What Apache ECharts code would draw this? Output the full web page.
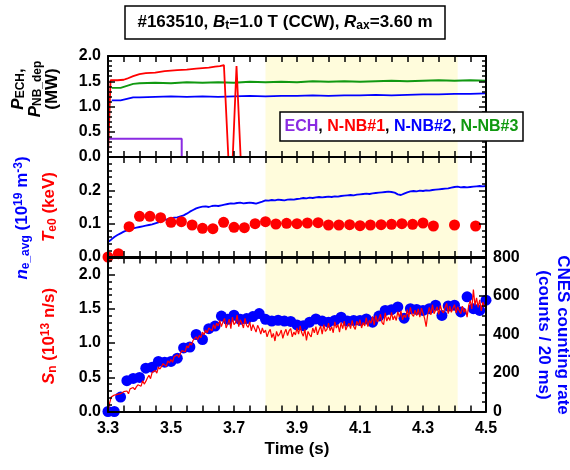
<!DOCTYPE html>
<html><head><meta charset="utf-8">
<script src="https://cdn.jsdelivr.net/npm/echarts@6/dist/echarts.min.js"></script>
<style>html,body{margin:0;padding:0;background:#fff}#c{width:570px;height:470px}</style>
</head><body><div id="c"></div>
<script>
const FONT = "'Liberation Sans', Arial, sans-serif";
const C_RED = '#ff0000', C_BLUE = '#0000ff', C_GREEN = '#119911', C_PURPLE = '#8a2be2';

// ---- top panel: heating powers (MW)
const echTime = [3.300, 3.300, 3.534, 3.534, 4.500];
const echPower = [0, 0.36, 0.36, 0, 0];
const nb1Time = [3.300, 3.308, 3.330, 3.350, 3.360, 3.380, 3.400, 3.420, 3.450, 3.480, 3.500, 3.520, 3.550, 3.580, 3.600, 3.620, 3.640, 3.655, 3.668, 3.682, 3.696, 3.708, 3.721, 4.500];
const nb1Power = [0, 1.52, 1.52, 1.53, 1.55, 1.60, 1.64, 1.66, 1.67, 1.70, 1.71, 1.72, 1.73, 1.75, 1.76, 1.77, 1.79, 1.80, 1.82, 0, 0, 1.80, 0, 0];
const nbTime = [3.312, 3.340, 3.360, 3.380, 3.400, 3.450, 3.500, 3.550, 3.600, 3.650, 3.700, 3.750, 3.800, 3.850, 3.900, 3.950, 4.000, 4.050, 4.100, 4.150, 4.200, 4.250, 4.300, 4.350, 4.400, 4.450, 4.500];
const nb2Power = [1.12, 1.12, 1.15, 1.18, 1.18, 1.19, 1.20, 1.19, 1.20, 1.19, 1.20, 1.21, 1.20, 1.21, 1.21, 1.22, 1.21, 1.22, 1.22, 1.23, 1.22, 1.23, 1.24, 1.24, 1.25, 1.25, 1.26];
const nb3Power = [1.37, 1.37, 1.41, 1.45, 1.46, 1.47, 1.46, 1.48, 1.47, 1.48, 1.47, 1.49, 1.48, 1.49, 1.48, 1.50, 1.49, 1.50, 1.49, 1.50, 1.51, 1.50, 1.51, 1.52, 1.51, 1.52, 1.51];

// ---- middle panel: line-averaged density (1e19 m^-3), sampled every 10 ms from 3.30 s
const neStart = 3.30, neStep = 0.01;
const neValues = [0.045,0.052,0.060,0.066,0.071,0.076,0.080,0.083,0.086,0.088,
 0.090,0.092,0.094,0.096,0.098,0.101,0.104,0.107,0.111,0.114,
 0.116,0.118,0.119,0.122,0.125,0.130,0.136,0.141,0.146,0.149,
 0.151,0.152,0.150,0.153,0.154,0.153,0.155,0.157,0.159,0.161,
 0.160,0.162,0.163,0.161,0.162,0.163,0.162,0.160,0.163,0.166,
 0.170,0.169,0.171,0.170,0.172,0.171,0.170,0.172,0.173,0.172,
 0.174,0.175,0.177,0.176,0.178,0.177,0.179,0.180,0.179,0.180,
 0.181,0.180,0.182,0.181,0.183,0.184,0.185,0.186,0.185,0.187,
 0.188,0.189,0.190,0.189,0.191,0.192,0.193,0.194,0.195,0.196,
 0.195,0.193,0.188,0.186,0.190,0.194,0.197,0.198,0.197,0.199,
 0.198,0.200,0.199,0.201,0.202,0.203,0.204,0.205,0.206,0.208,
 0.210,0.211,0.209,0.210,0.209,0.210,0.211,0.212,0.213,0.212,0.213];
// central electron temperature (keV)
const teTime = [3.300,3.333,3.367,3.400,3.433,3.467,3.500,3.533,3.567,3.600,3.633,3.667,3.700,3.733,3.767,3.800,3.833,3.867,3.900,3.933,3.967,4.000,4.033,4.067,4.100,4.133,4.167,4.200,4.233,4.267,4.300,4.333,4.400,4.467];
const teValues = [0.000,0.010,0.091,0.122,0.122,0.118,0.104,0.106,0.096,0.086,0.085,0.104,0.089,0.088,0.100,0.106,0.099,0.101,0.100,0.102,0.103,0.096,0.096,0.097,0.094,0.096,0.097,0.098,0.100,0.098,0.102,0.093,0.096,0.093];

// ---- bottom panel: neutron rate (1e13 n/s), every 5 ms from 3.30 s
const snStart = 3.30, snStep = 0.005;
const snValues = [0.00,0.12,0.21,0.19,0.24,0.22,0.25,0.23,0.26,0.24,
 0.29,0.27,0.30,0.26,0.33,0.31,0.35,0.32,0.36,0.39,
 0.41,0.37,0.45,0.40,0.44,0.49,0.53,0.48,0.57,0.55,
 0.60,0.56,0.65,0.62,0.66,0.70,0.71,0.66,0.74,0.71,
 0.76,0.72,0.80,0.78,0.83,0.79,0.85,0.89,0.91,0.87,
 0.96,0.93,1.00,0.97,1.04,1.02,1.09,1.05,1.11,1.08,
 1.16,1.12,1.19,1.15,1.22,1.24,1.18,1.27,1.21,1.29,
 1.25,1.33,1.24,1.31,1.36,1.22,1.28,1.35,1.21,1.38,
 1.27,1.30,1.41,1.24,1.34,1.29,1.22,1.36,1.26,1.23,
 1.31,1.18,1.27,1.25,1.16,1.26,1.21,1.13,1.22,1.15,
 1.19,1.09,1.16,1.20,1.08,1.14,1.03,1.17,1.10,1.13,
 1.19,1.07,1.15,1.20,1.11,1.18,1.21,1.09,1.16,1.12,
 1.22,1.13,1.25,1.15,1.10,1.20,1.04,1.17,1.12,1.09,
 1.22,1.15,1.24,1.12,1.19,1.25,1.13,1.27,1.17,1.20,
 1.29,1.18,1.24,1.15,1.31,1.22,1.27,1.16,1.30,1.21,
 1.32,1.19,1.25,1.29,1.21,1.33,1.24,1.20,1.32,1.26,
 1.34,1.22,1.30,1.25,1.37,1.24,1.33,1.29,1.39,1.26,
 1.40,1.31,1.35,1.42,1.30,1.27,1.44,1.32,1.38,1.33,
 1.45,1.34,1.40,1.33,1.46,1.38,1.47,1.34,1.41,1.37,
 1.49,1.38,1.52,1.42,1.39,1.48,1.40,1.50,1.38,1.51,
 1.44,1.36,1.24,1.42,1.52,1.41,1.56,1.43,1.48,1.53,
 1.42,1.55,1.47,1.44,1.52,1.58,1.43,1.54,1.45,1.51,
 1.56,1.44,1.53,1.47,1.43,1.54,1.45,1.50,1.38,1.55,
 1.62,1.50,1.78,1.55,1.66,1.52,1.63,1.47,1.60,1.53,1.58];
// CNES counting rate (counts / 20 ms), every 20 ms from 3.30 s
const cnesStart = 3.30, cnesStep = 0.02;
const cnesValues = [0,0,75,160,172,177,225,230,260,256,
 260,277,330,335,400,374,430,444,496,479,
 500,479,483,493,509,479,470,474,470,468,
 450,446,464,481,470,464,473,490,470,473,
 473,481,464,496,525,529,543,485,534,530,
 525,534,552,499,548,552,517,596,534,525,578];

const shadeFrom = 3.80, shadeTo = 4.41;
const xTickLabels = ['3.3','3.5','3.7','3.9','4.1','4.3','4.5'];

function zip(t, v) { return v.map((y, i) => [t[i], y]); }
function regular(start, step, v) { return v.map((y, i) => [+(start + i * step).toFixed(4), y]); }

const axisLineStyle = { color: '#000', width: 2 };
const tickStyle = { color: '#000', width: 1.5 };
const labelBase = { color: '#000', fontSize: 16, fontWeight: 'bold', fontFamily: FONT };

function xAx(grid, pos, showLabel) {
  return {
    type: 'value', gridIndex: grid, position: pos, min: 3.3, max: 4.5, interval: 0.05, z: 10,
    axisLine: { show: true, onZero: false, lineStyle: axisLineStyle },
    axisTick: { show: true, inside: true, length: 6, lineStyle: tickStyle },
    splitLine: { show: false },
    axisLabel: Object.assign({}, labelBase, {
      show: showLabel, margin: 9,
      formatter: v => { const i = Math.round((v - 3.3) / 0.05); return i % 4 === 0 ? xTickLabels[i / 4] : ''; }
    })
  };
}
function yAx(grid, pos, min, max, interval, split, showLabel, fmt) {
  return {
    type: 'value', gridIndex: grid, position: pos, min, max, interval, z: 10,
    axisLine: { show: true, onZero: false, lineStyle: axisLineStyle },
    axisTick: { show: true, inside: true, length: 7, lineStyle: tickStyle },
    minorTick: { show: true, splitNumber: split, length: 4, lineStyle: tickStyle },
    splitLine: { show: false }, minorSplitLine: { show: false },
    axisLabel: Object.assign({}, labelBase, { show: showLabel, margin: 7, formatter: fmt, showMaxLabel: true })
  };
}
const f1 = v => v.toFixed(1);
const f1noMax = max => v => (Math.abs(v - max) < 1e-9 ? '' : v.toFixed(1));

const shade = { silent: true, itemStyle: { color: '#fffcdc' }, data: [[{ xAxis: shadeFrom }, { xAxis: shadeTo }]] };

function line(name, x, y, data, color, width, extra) {
  return Object.assign({ name, type: 'line', xAxisIndex: x, yAxisIndex: y, data, symbol: 'none',
    lineStyle: { color, width }, itemStyle: { color }, clip: true, z: 3 }, extra || {});
}
function dots(name, x, y, data, color, size, extra) {
  return Object.assign({ name, type: 'scatter', xAxisIndex: x, yAxisIndex: y, data, symbol: 'circle', symbolSize: size,
    itemStyle: { color, opacity: 1 }, clip: false, z: 4 }, extra || {});
}

const gridBase = { left: 108, width: 378, containLabel: false, outerBoundsMode: 'none', show: false };

function tok(color, size, extra) {
  return Object.assign({ fontSize: size, fontWeight: 'bold', fontFamily: FONT, color, fill: color }, extra || {});
}
const rich = (color, lh) => ({
  n: tok(color, 17, { lineHeight: lh || 19 }),
  i: tok(color, 17, { lineHeight: lh || 19, fontStyle: 'italic' }),
  sub: tok(color, 12, { lineHeight: 12, verticalAlign: 'bottom' }),
  sup: tok(color, 12, { lineHeight: 11, verticalAlign: 'top' })
});
function rtext(x, y, rot, text, color, lh) {
  return { type: 'text', x, y, rotation: rot, z: 100,
    style: { text, rich: rich(color, lh), align: 'center', verticalAlign: 'middle',
      textAlign: 'center', textVerticalAlign: 'middle', fill: color, fontSize: 17, fontWeight: 'bold', fontFamily: FONT } };
}

const legendRich = {
  p: tok(C_PURPLE, 16), r: tok(C_RED, 16), b: tok(C_BLUE, 16), g: tok(C_GREEN, 16), k: tok('#000', 16)
};

const option = {
  animation: false,
  backgroundColor: '#fff',
  grid: [
    Object.assign({ top: 56, height: 101 }, gridBase),
    Object.assign({ top: 157, height: 100 }, gridBase),
    Object.assign({ top: 257.5, height: 154 }, gridBase)
  ],
  xAxis: [xAx(0, 'bottom', false), xAx(0, 'top', false), xAx(1, 'bottom', false), xAx(1, 'top', false), xAx(2, 'bottom', true), xAx(2, 'top', false)],
  yAxis: [
    yAx(0, 'left', 0, 2.0, 0.5, 5, true, f1), yAx(0, 'right', 0, 2.0, 0.5, 5, false, f1),
    yAx(1, 'left', 0, 0.3, 0.1, 5, true, f1noMax(0.3)), yAx(1, 'right', 0, 0.3, 0.1, 5, false, f1),
    yAx(2, 'left', 0, 2.25, 0.5, 5, true, f1noMax(2.25)),
    yAx(2, 'right', 0, 800, 200, 4, true, v => String(Math.round(v)))
  ],
  series: [
    line('ECH', 0, 0, zip(echTime, echPower), C_PURPLE, 2, { markArea: shade }),
    line('N-NB#3', 0, 0, zip(nbTime, nb3Power), C_GREEN, 1.8),
    line('N-NB#2', 0, 0, zip(nbTime, nb2Power), C_BLUE, 1.8),
    line('N-NB#1', 0, 0, zip(nb1Time, nb1Power), C_RED, 1.8),
    line('ne', 2, 2, regular(neStart, neStep, neValues), C_BLUE, 1.8, { markArea: shade }),
    dots('Te0', 2, 2, zip(teTime, teValues), C_RED, 11),
    dots('CNES', 4, 5, regular(cnesStart, cnesStep, cnesValues), C_BLUE, 11, { markArea: shade }),
    line('Sn', 4, 4, regular(snStart, snStep, snValues), C_RED, 1.2, { z: 5 })
  ],
  graphic: [
    { type: 'rect', z: 99, shape: { x: 125, y: 6, width: 320, height: 33 }, style: { fill: '#fff', stroke: '#000', lineWidth: 1.5 } },
    rtext(285, 22.5, 0, '{n|#163510, }{i|B}{sub|t}{n|=1.0 T (CCW), }{i|R}{sub|ax}{n|=3.60 m}', '#000'),
    { type: 'rect', z: 99, shape: { x: 280, y: 112, width: 243, height: 29 }, style: { fill: '#fff', stroke: '#000', lineWidth: 1.5 } },
    { type: 'text', x: 401.5, y: 127, z: 100, style: { text: '{p|ECH}{k|, }{r|N-NB#1}{k|, }{b|N-NB#2}{k|, }{g|N-NB#3}', rich: legendRich,
      align: 'center', verticalAlign: 'middle', textAlign: 'center', textVerticalAlign: 'middle' } },
    rtext(35, 89, Math.PI / 2, '{i|P}{sub|ECH}{n|,}\n{i|P}{sub|NB_dep}\n{n|(MW)}', '#000', 17),
    rtext(22, 218, Math.PI / 2, '{i|n}{sub|e_avg}{n| (10}{sup|19}{n| m}{sup|-3}{n|)}', C_BLUE),
    rtext(49, 207, Math.PI / 2, '{i|T}{sub|e0}{n| (keV)}', C_RED),
    rtext(49, 336, Math.PI / 2, '{i|S}{sub|n}{n| (10}{sup|13}{n| n/s)}', C_RED),
    rtext(553, 335, -Math.PI / 2, '{n|CNES counting rate}\n{n|(counts / 20 ms)}', C_BLUE),
    rtext(297, 449, 0, '{n|Time (s)}', '#000')
  ]
};
const chart = echarts.init(document.getElementById('c'), null, { renderer: 'canvas' });
chart.setOption(option);
</script></body></html>
